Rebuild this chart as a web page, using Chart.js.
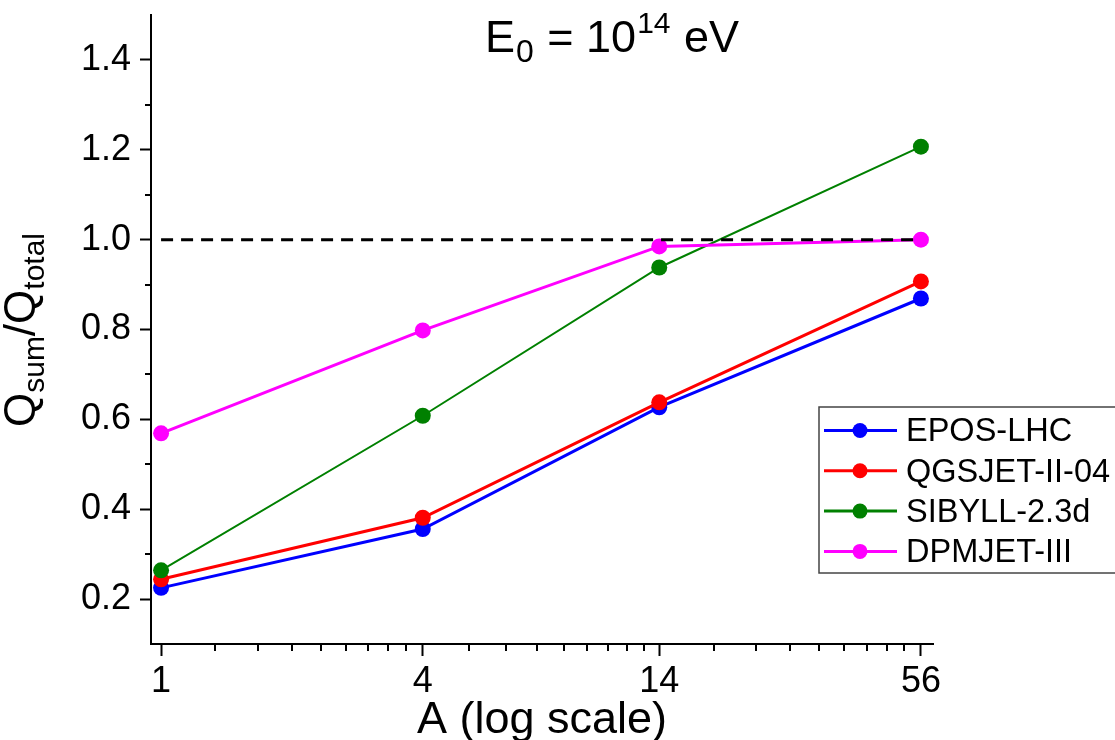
<!DOCTYPE html>
<html lang="en">
<head>
    <meta charset="UTF-8" />
    <title>Qsum/Qtotal vs A</title>
    <script src="https://cdn.jsdelivr.net/npm/chart.js"></script>
    <style>
        body { margin: 0; background: #fff; }
        #wrap { width: 1115px; height: 740px; position: relative; }
    </style>
</head>
<body>
    <div id="wrap"><canvas id="qChart"></canvas></div>

    <script>
        // mass numbers (x, log axis)
        const massNumbers = [1, 4, 14, 56];
        const xTickValues = [1, 4, 14, 56];
        const yTickValues = [0.2, 0.4, 0.6, 0.8, 1.0, 1.2, 1.4];
        const yMinorValues = [0.3, 0.5, 0.7, 0.9, 1.1, 1.3];

        // Qsum / Qtotal per model
        const eposLhc = [0.225, 0.356, 0.627, 0.869];
        const qgsjet = [0.244, 0.381, 0.638, 0.907];
        const sibyll = [0.264, 0.608, 0.938, 1.207];
        const dpmjet = [0.569, 0.798, 0.985, 1.0];
        const refLevel = [1.0, 1.0];

        const seriesNames = ['EPOS-LHC', 'QGSJET-II-04', 'SIBYLL-2.3d', 'DPMJET-III'];
        const seriesColors = ['#0000ff', '#ff0000', '#008000', '#ff00ff'];
        const seriesWidths = [3, 3, 2, 3];

        const FONT = '"Liberation Sans", Arial, sans-serif';

        // 8 linear minor ticks between each pair of major ticks
        const xMinorValues = [];
        for (let i = 0; i < xTickValues.length - 1; i++) {
            const a = xTickValues[i], b = xTickValues[i + 1];
            for (let k = 1; k < 9; k++) xMinorValues.push(a + (b - a) * k / 9);
        }

        function pts(ys) {
            return ys.map((y, i) => ({ x: massNumbers[i], y: y }));
        }

        function seriesDataset(i, ys, order) {
            return {
                label: seriesNames[i],
                data: pts(ys),
                borderColor: seriesColors[i],
                backgroundColor: seriesColors[i],
                borderWidth: seriesWidths[i],
                pointRadius: 8,
                pointHoverRadius: 8,
                pointBorderWidth: 0,
                tension: 0,
                order: order
            };
        }

        const annotations = {
            id: 'annotations',
            afterDraw(chart) {
                const ctx = chart.ctx;
                const xs = chart.scales.x, ys = chart.scales.y;
                ctx.save();

                // minor ticks
                ctx.strokeStyle = '#000';
                ctx.lineWidth = 2;
                ctx.beginPath();
                xMinorValues.forEach(v => {
                    const px = Math.round(xs.getPixelForValue(v));
                    ctx.moveTo(px, xs.top);
                    ctx.lineTo(px, xs.top + 7);
                });
                yMinorValues.forEach(v => {
                    const py = Math.round(ys.getPixelForValue(v));
                    ctx.moveTo(ys.right, py);
                    ctx.lineTo(ys.right - 6, py);
                });
                ctx.stroke();

                ctx.fillStyle = '#000';
                ctx.textBaseline = 'alphabetic';

                // title: E0 = 10^14 eV
                let x = 485;
                const base = 52;
                ctx.font = '45px ' + FONT;
                ctx.fillText('E', x, base); x += ctx.measureText('E').width;
                ctx.font = '32px ' + FONT;
                ctx.fillText('0', x + 1, base + 10); x += ctx.measureText('0').width + 2;
                ctx.font = '45px ' + FONT;
                ctx.fillText(' = 10', x, base); x += ctx.measureText(' = 10').width;
                ctx.font = '30px ' + FONT;
                ctx.fillText('14', x + 1, base - 19); x += ctx.measureText('14').width + 2;
                ctx.font = '45px ' + FONT;
                ctx.fillText(' eV', x, base);

                // x axis title
                ctx.font = '45px ' + FONT;
                ctx.textAlign = 'center';
                ctx.fillText('A (log scale)', (chart.chartArea.left + chart.chartArea.right) / 2, 733);
                ctx.textAlign = 'left';

                // y axis title: Qsum/Qtotal
                const parts = [['Q', 44, 0], ['sum', 30, 9], ['/Q', 44, 0], ['total', 30, 9]];
                let total = 0;
                parts.forEach(p => { ctx.font = p[1] + 'px ' + FONT; total += ctx.measureText(p[0]).width; });
                ctx.translate(35, 330);
                ctx.rotate(-Math.PI / 2);
                let tx = -total / 2;
                parts.forEach(p => {
                    ctx.font = p[1] + 'px ' + FONT;
                    ctx.fillText(p[0], tx, p[2]);
                    tx += ctx.measureText(p[0]).width;
                });
                ctx.setTransform(1, 0, 0, 1, 0, 0);

                // legend
                const lx = 819, ly = 407, lw = 300, lh = 166;
                ctx.fillStyle = '#fff';
                ctx.fillRect(lx, ly, lw, lh);
                ctx.strokeStyle = '#444';
                ctx.lineWidth = 1.5;
                ctx.strokeRect(lx, ly, lw, lh);
                ctx.font = '32.5px ' + FONT;
                ctx.textBaseline = 'middle';
                seriesNames.forEach((name, i) => {
                    const cy = 430.5 + i * 40.3;
                    ctx.strokeStyle = seriesColors[i];
                    ctx.lineWidth = 3;
                    ctx.beginPath();
                    ctx.moveTo(824, cy);
                    ctx.lineTo(897, cy);
                    ctx.stroke();
                    ctx.fillStyle = seriesColors[i];
                    ctx.beginPath();
                    ctx.arc(860, cy, 7.5, 0, Math.PI * 2);
                    ctx.fill();
                    ctx.fillStyle = '#000';
                    ctx.fillText(name, 906, cy + 2);
                });
                ctx.restore();
            }
        };

        const ctx = document.getElementById('qChart').getContext('2d');
        const chart = new Chart(ctx, {
            type: 'line',
            data: {
                datasets: [
                    {
                        label: 'ref',
                        data: [{ x: massNumbers[0], y: refLevel[0] }, { x: massNumbers[3], y: refLevel[1] }],
                        borderColor: '#000',
                        borderWidth: 3,
                        borderDash: [12, 8],
                        pointRadius: 0,
                        order: 0
                    },
                    seriesDataset(3, dpmjet, 1),
                    seriesDataset(2, sibyll, 2),
                    seriesDataset(1, qgsjet, 3),
                    seriesDataset(0, eposLhc, 4)
                ]
            },
            options: {
                responsive: true,
                maintainAspectRatio: false,
                animation: false,
                layout: { padding: { top: 15, right: 182, left: 0, bottom: 0 } },
                plugins: {
                    legend: { display: false },
                    tooltip: { enabled: false },
                    title: { display: false }
                },
                scales: {
                    x: {
                        type: 'logarithmic',
                        min: 0.948,
                        max: 59.7,
                        afterBuildTicks: s => { s.ticks = xTickValues.map(v => ({ value: v })); },
                        afterFit: s => { s.height = 96; s.paddingLeft = 0; s.paddingRight = 0; },
                        ticks: {
                            callback: v => String(v),
                            color: '#000',
                            font: { family: FONT, size: 36 },
                            padding: 4,
                            maxRotation: 0,
                            autoSkip: false
                        },
                        grid: {
                            drawOnChartArea: false,
                            tickLength: 12,
                            tickWidth: 2,
                            tickColor: '#000'
                        },
                        border: { display: true, color: '#000', width: 2 }
                    },
                    y: {
                        min: 0.1,
                        max: 1.5,
                        afterBuildTicks: s => { s.ticks = yTickValues.map(v => ({ value: v })); },
                        afterFit: s => { s.width = 151; s.paddingTop = 0; s.paddingBottom = 0; },
                        ticks: {
                            callback: v => v.toFixed(1),
                            color: '#000',
                            font: { family: FONT, size: 36 },
                            padding: 9
                        },
                        grid: {
                            drawOnChartArea: false,
                            tickLength: 11,
                            tickWidth: 2,
                            tickColor: '#000'
                        },
                        border: { display: true, color: '#000', width: 2 }
                    }
                }
            },
            plugins: [annotations]
        });
    </script>
</body>
</html>
